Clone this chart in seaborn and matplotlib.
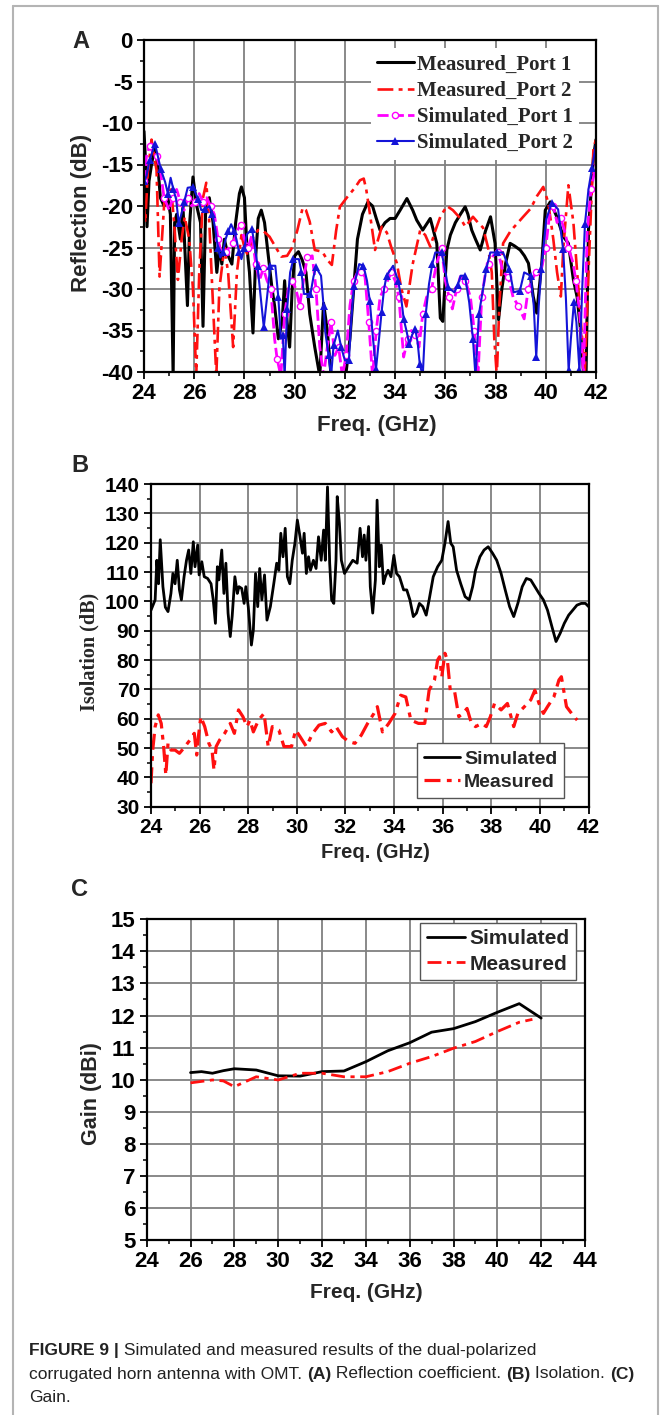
import matplotlib
matplotlib.use("Agg")
import matplotlib.pyplot as plt
import numpy as np
import pandas as pd
import seaborn as sns
from matplotlib.ticker import MultipleLocator
from matplotlib.lines import Line2D

# ---------------- DATA ----------------
# Panel A : reflection (dB) vs frequency (GHz)
meas_port1 = [(24.0,-11),(24.05,-14),(24.12,-22.5),(24.2,-17),(24.3,-15),(24.42,-13),(24.55,-15),(24.65,-19),
    (24.8,-20),(24.95,-19),(25.05,-21),(25.16,-40.5),(25.22,-22),(25.3,-21),(25.45,-24),(25.55,-20),(25.73,-32),
    (25.82,-22),(25.95,-16.5),(26.1,-20),(26.25,-22),(26.35,-34.5),(26.45,-21),(26.6,-19),(26.75,-22),(26.9,-28),
    (27.0,-25),(27.1,-27),(27.2,-24),(27.35,-26),(27.5,-27),(27.65,-22),(27.8,-18.5),(27.88,-17.7),(28.0,-19),
    (28.1,-25),(28.2,-28),(28.34,-35.3),(28.45,-26),(28.55,-21.5),(28.67,-20.5),(28.8,-22),(28.95,-26),(29.1,-30),
    (29.2,-32),(29.35,-36),(29.5,-34),(29.6,-29),(29.7,-34),(29.8,-37),(29.9,-30),(30.0,-26),(30.15,-25.5),
    (30.3,-26.5),(30.45,-28),(30.6,-33),(30.8,-37),(31.0,-40.5),(31.15,-31.7),(31.3,-35),(31.45,-40.5),(31.7,-41),
    (31.9,-41),(32.05,-40),(32.2,-36),(32.35,-30),(32.5,-24),(32.7,-21),(32.92,-19.5),(33.1,-20),(33.25,-21.5),
    (33.4,-22.9),(33.6,-22),(33.8,-21.5),(34.0,-21.5),(34.2,-20.5),(34.47,-19.1),(34.7,-20.5),(34.86,-21.7),
    (35.1,-22.9),(35.4,-21.5),(35.66,-24.5),(35.8,-33.5),(35.9,-33.9),(36.06,-25.3),(36.2,-23.5),(36.4,-22),
    (36.6,-21),(36.79,-20.1),(36.9,-21),(37.05,-22.9),(37.2,-24),(37.39,-25.3),(37.6,-23),(37.8,-21.3),
    (37.98,-24.5),(38.12,-33.7),(38.25,-30),(38.4,-26.9),(38.58,-24.5),(38.75,-24.8),(38.98,-25.3),(39.15,-26),
    (39.31,-26.9),(39.5,-30.9),(39.64,-32.9),(39.84,-26.9),(39.98,-20.5),(40.18,-19.5),(40.44,-21.3),(40.7,-23.7),
    (40.9,-24.5),(41.1,-28.9),(41.25,-31),(41.37,-34.5),(41.5,-40),(41.6,-41),(41.7,-22.9),(41.9,-14.1),(42.0,-12)]

meas_port2 = [(24.0,-20),(24.05,-22),(24.15,-16),(24.3,-12),(24.5,-15.7),(24.62,-28.5),(24.82,-19),(25.08,-18),
    (25.2,-22),(25.35,-28.9),(25.5,-24),(25.62,-21.3),(25.8,-24),(25.95,-30),(26.08,-40.5),(26.2,-28),(26.35,-19),
    (26.48,-17.2),(26.6,-22),(26.75,-32),(26.88,-40.5),(27.0,-30),(27.2,-25),(27.35,-28),(27.55,-37),(27.7,-28),
    (27.88,-23.5),(28.0,-25),(28.14,-26),(28.3,-24),(28.54,-22.9),(28.75,-23),(29.0,-23.7),(29.25,-25),
    (29.47,-26.1),(29.7,-26),(29.9,-25),(30.1,-23),(30.32,-20.2),(30.45,-20.5),(30.6,-21.9),(30.8,-25.3),
    (31.1,-25.5),(31.3,-26.5),(31.48,-27.1),(31.65,-23),(31.8,-20.1),(32.1,-18.9),(32.4,-17.8),(32.6,-16.9),
    (32.75,-16.7),(32.85,-18),(33.0,-21),(33.2,-25.3),(33.47,-22.5),(33.67,-23.2),(33.85,-25),(34.07,-26.9),
    (34.25,-30),(34.45,-32.1),(34.7,-27),(35.0,-22.9),(35.2,-23.5),(35.4,-24.9),(35.6,-23),(35.8,-21.3),
    (36.06,-20),(36.3,-20.5),(36.6,-21.5),(36.8,-22.5),(37.1,-21.3),(37.3,-22),(37.5,-22.6),(37.7,-25),
    (37.85,-28),(37.95,-36),(38.05,-40.5),(38.15,-32),(38.3,-24.5),(38.6,-23),(39.1,-21.3),(39.4,-20.3),
    (39.65,-18.8),(39.9,-17.7),(40.1,-19.6),(40.3,-24),(40.45,-28),(40.6,-30.9),(40.7,-25),(40.9,-17.5),
    (41.1,-22),(41.3,-30),(41.45,-36),(41.55,-40.5),(41.7,-28),(41.9,-13),(42.0,-12)]

sim_port1 = [(24.0,-17),(24.1,-14),(24.22,-12.8),(24.35,-13.5),(24.5,-14),(24.64,-15.5),(24.8,-19),(25.0,-20.5),
    (25.15,-19),(25.3,-18),(25.45,-19.5),(25.6,-20.5),(25.75,-19),(25.9,-20),(26.05,-19.5),(26.2,-18.5),
    (26.35,-19.5),(26.5,-19),(26.65,-20),(26.8,-21),(26.95,-24),(27.1,-26),(27.25,-25.5),(27.4,-25),(27.55,-24.5),
    (27.7,-23),(27.85,-22.3),(28.0,-24),(28.15,-25),(28.3,-23.5),(28.45,-27),(28.6,-29),(28.75,-27.5),(28.9,-29),
    (29.05,-30),(29.2,-36),(29.3,-38.4),(29.45,-40.5),(29.6,-33),(29.75,-30),(29.9,-29),(30.05,-30),(30.2,-32),
    (30.35,-29),(30.5,-26.2),(30.7,-26),(30.85,-30),(31.0,-37),(31.15,-40.5),(31.3,-37),(31.45,-34),(31.6,-38),
    (31.75,-37),(31.9,-40.5),(32.05,-38),(32.2,-32),(32.35,-29),(32.5,-28),(32.65,-28),(32.8,-28.5),(32.95,-34),
    (33.1,-40.5),(33.25,-35),(33.4,-31),(33.55,-30),(33.7,-29),(33.85,-28),(34.0,-29),(34.15,-31),(34.34,-38.2),
    (34.5,-36),(34.65,-35),(34.8,-35.5),(34.95,-37),(35.1,-33),(35.25,-31),(35.45,-30),(35.65,-27),(35.85,-25),
    (36.0,-29),(36.15,-31),(36.28,-32.4),(36.45,-30),(36.6,-28.5),(36.8,-29),(37.0,-31),(37.15,-35),(37.3,-40.5),
    (37.45,-31),(37.6,-28),(37.75,-27),(37.9,-26),(38.1,-25.5),(38.3,-28),(38.5,-28.5),(38.7,-31),(38.9,-32),
    (39.14,-33.6),(39.3,-30),(39.45,-29),(39.6,-28),(39.8,-28),(40.0,-25),(40.15,-21),(40.3,-20),(40.45,-22),
    (40.6,-21.5),(40.75,-23),(40.9,-25),(41.08,-26.8),(41.2,-29),(41.35,-33),(41.5,-40.5),(41.65,-23),(41.8,-18),
    (42.0,-15)]

sim_port2 = [(24.0,-17),(24.1,-16.4),(24.22,-14.5),(24.34,-13.4),(24.44,-12.5),(24.55,-14),(24.67,-15.6),
    (24.84,-17.1),(24.95,-18.5),(25.06,-16.6),(25.17,-18),(25.28,-19.2),(25.38,-22),(25.48,-21.1),(25.6,-19.5),
    (25.74,-17.8),(25.96,-17.7),(26.06,-18.5),(26.16,-19.2),(26.28,-20.5),(26.41,-20.4),(26.61,-20),(26.72,-21),
    (26.83,-22.6),(26.94,-25),(27.04,-26.2),(27.15,-25.5),(27.25,-24),(27.36,-23),(27.47,-22.2),(27.58,-23),
    (27.68,-24),(27.78,-25.5),(27.88,-26.4),(28.0,-25),(28.1,-23.4),(28.3,-22.8),(28.42,-25),(28.52,-27.2),
    (28.65,-31),(28.77,-34.6),(28.9,-31),(29.03,-27.2),(29.23,-27.2),(29.35,-31),(29.45,-36),(29.53,-35.6),
    (29.6,-40.5),(29.7,-32.4),(29.82,-28),(29.95,-26.4),(30.17,-26.4),(30.27,-28),(30.37,-30.6),(30.63,-30.6),
    (30.75,-28.5),(30.85,-27.4),(31.05,-28.4),(31.15,-32),(31.22,-35.2),(31.35,-38),(31.45,-40.5),(31.55,-36.8),
    (31.72,-35),(31.85,-37),(32.0,-38.6),(32.16,-38.6),(32.25,-34),(32.36,-29.6),(32.57,-27),(32.74,-27.2),
    (32.88,-29),(32.99,-31.4),(33.12,-36),(33.24,-39.6),(33.36,-36),(33.46,-32.8),(33.56,-30),(33.66,-28.4),
    (33.92,-27.2),(34.12,-29),(34.24,-31),(34.34,-33.6),(34.45,-35),(34.56,-36.6),(34.68,-35.5),(34.8,-34.8),
    (34.9,-36.5),(34.98,-39),(35.1,-40.5),(35.22,-33),(35.35,-29.4),(35.48,-27),(35.6,-25.6),(35.85,-25.6),
    (35.98,-27.5),(36.11,-29.8),(36.36,-30.4),(36.5,-29.5),(36.61,-28.4),(36.78,-28.4),(36.95,-31.6),(37.1,-36),
    (37.2,-40.5),(37.34,-33),(37.5,-30),(37.63,-27.6),(37.79,-25.6),(38.05,-25.6),(38.3,-25.6),(38.55,-27.6),
    (38.72,-30.4),(38.97,-30.2),(39.14,-28),(39.4,-28.4),(39.52,-32),(39.62,-38.2),(39.72,-32),(39.82,-27.6),
    (40.02,-21.6),(40.24,-19.6),(40.49,-20.4),(40.69,-25.2),(40.8,-31),(40.91,-39.8),(41.0,-36),(41.12,-31.6),
    (41.22,-34),(41.34,-39.8),(41.45,-30),(41.56,-22.2),(41.7,-18),(41.84,-15.4),(42.0,-12.5)]

# Panel B : isolation (dB)
iso_simulated = [(24.0,97),(24.17,100.5),(24.24,114),(24.31,106),(24.38,121),(24.49,105),(24.59,98),(24.7,96.5),
    (24.82,102.7),(24.9,109.5),(24.99,106),(25.08,114),(25.17,103.9),(25.25,100.5),(25.36,108.4),(25.46,114),
    (25.55,117.5),(25.64,109.5),(25.74,120.3),(25.81,111.8),(25.92,119.2),(25.98,109),(26.09,113.5),(26.19,108.4),
    (26.33,107.8),(26.47,106),(26.56,100.5),(26.65,92.5),(26.73,111.8),(26.79,107.3),(26.91,117.5),(27.0,102.7),
    (27.08,113),(27.17,96),(27.26,88),(27.34,95),(27.45,108.4),(27.55,102.7),(27.62,105),(27.73,104.4),
    (27.83,99.3),(27.9,105),(28.0,98.2),(28.13,85.1),(28.21,90.2),(28.3,109.5),(28.39,98.2),(28.47,111.2),
    (28.56,100.5),(28.67,109),(28.77,93.6),(28.91,98.2),(29.05,106),(29.17,113),(29.26,110.6),(29.34,123.2),
    (29.43,115.2),(29.52,124.9),(29.61,108.4),(29.71,106),(29.81,114),(29.92,119.8),(30.02,127.7),(30.13,122),
    (30.23,116.4),(30.3,123.2),(30.39,109.5),(30.48,115.2),(30.56,110.6),(30.68,114),(30.79,111.2),(30.89,122),
    (31.0,114),(31.1,124.3),(31.17,114),(31.26,139),(31.35,113),(31.43,100.5),(31.52,99.3),(31.61,114),
    (31.66,135.7),(31.75,126.6),(31.83,114),(31.96,109.5),(32.13,111.8),(32.3,114),(32.48,113),(32.6,124.9),
    (32.7,115.2),(32.77,122.6),(32.84,114),(32.95,125.5),(33.02,105),(33.12,96),(33.23,107.3),(33.3,134.5),
    (33.39,111.8),(33.47,119.2),(33.56,106),(33.64,108.4),(33.75,110.6),(33.87,108.4),(33.99,115.7),(34.1,109.5),
    (34.22,108.4),(34.39,103.9),(34.52,103.9),(34.65,100.5),(34.79,94.8),(34.92,96),(35.04,99.3),(35.18,98.2),
    (35.32,95.3),(35.44,100.5),(35.61,108.4),(35.79,111.8),(35.96,114),(36.09,119.8),(36.22,127.2),(36.33,119.8),
    (36.43,118.6),(36.57,110.6),(36.74,106),(36.92,101.6),(37.09,100.5),(37.23,105),(37.35,110.6),(37.53,115.2),
    (37.7,117.5),(37.87,118.6),(38.05,116.4),(38.22,114),(38.4,109.5),(38.57,103.9),(38.75,98.2),(38.92,94.8),
    (39.09,99.3),(39.27,105),(39.44,107.8),(39.62,107.3),(39.79,105),(39.96,102.7),(40.14,100.5),(40.31,97),
    (40.49,91.4),(40.66,86.3),(40.83,89.1),(41.0,92.5),(41.18,95.3),(41.35,97),(41.52,98.7),(41.7,99.3),
    (41.87,99.3),(42.0,98.2)]

iso_measured = [(24.0,38),(24.07,49.3),(24.17,57.3),(24.3,61.3),(24.42,58.4),(24.52,50.5),(24.61,40.8),
    (24.7,51.6),(24.82,49.3),(24.99,49.3),(25.17,48.2),(25.34,49.9),(25.6,52.7),(25.78,55),(25.88,47.6),
    (25.95,53.9),(26.05,60.7),(26.21,57.3),(26.38,51.6),(26.51,49.3),(26.59,42.5),(26.68,50.5),(26.82,52.7),
    (27.03,55),(27.26,58.4),(27.43,55),(27.6,63),(27.78,60.7),(27.95,57.3),(28.07,59.5),(28.21,55.5),(28.42,59.5),
    (28.65,61.8),(28.82,50.5),(28.99,57.3),(29.26,56.1),(29.47,50.5),(29.78,50.5),(29.95,56.1),(30.13,53.9),
    (30.39,50.5),(30.65,55),(30.91,57.8),(31.17,58.4),(31.43,55.5),(31.61,57.3),(31.87,53.9),(32.13,52.2),
    (32.39,51.6),(32.65,54.4),(32.91,58.4),(33.17,61.8),(33.31,64.1),(33.52,55.5),(33.78,58.4),(34.04,61.8),
    (34.27,68),(34.48,67.4),(34.69,59.5),(35.0,58.4),(35.26,58.4),(35.44,69.7),(35.66,73.2),(35.79,80),
    (35.87,81.1),(35.96,74.3),(36.09,82.3),(36.19,80),(36.31,69.7),(36.48,69.7),(36.66,60.7),(36.83,61.8),
    (37.0,63.5),(37.18,58.4),(37.35,57.3),(37.61,58.4),(37.79,57.3),(37.96,60.7),(38.13,65.2),(38.4,63),
    (38.66,65.2),(38.92,57.3),(39.09,61.8),(39.36,64.1),(39.62,66.4),(39.79,69.7),(39.96,65.2),(40.14,61.8),
    (40.31,64.1),(40.57,67.4),(40.78,73.2),(40.88,74.3),(41.09,64.1),(41.3,61.8),(41.53,59.5)]

# Panel C : gain (dBi)
gain_freq_sim = [26, 26.5, 27, 27.5, 28, 29, 30, 31, 32, 33, 34, 35, 36, 37, 38, 39, 40, 41, 42]
gain_sim = [10.22, 10.25, 10.2, 10.28, 10.34, 10.3, 10.12, 10.11, 10.25, 10.27, 10.56, 10.9, 11.15, 11.48,
            11.59, 11.81, 12.1, 12.37, 11.92]
gain_freq_meas = [26, 27, 27.5, 28, 29, 30, 31, 32, 33, 34, 35, 36, 37, 38, 39, 40, 41, 41.6]
gain_meas = [9.9, 9.99, 9.96, 9.78, 10.09, 9.99, 10.2, 10.2, 10.09, 10.09, 10.25, 10.51, 10.72, 10.98,
             11.19, 11.5, 11.79, 11.88]

labels_A = ["Measured_Port 1", "Measured_Port 2", "Simulated_Port 1", "Simulated_Port 2"]
labels_BC = ["Simulated", "Measured"]

# ---------------- STYLE ----------------
sns.set_theme(style="white")
plt.rcParams.update({
    "axes.unicode_minus": False,
    "axes.edgecolor": "black",
    "axes.linewidth": 1.6,
    "xtick.direction": "out", "ytick.direction": "out",
    "xtick.major.size": 5, "ytick.major.size": 5,
    "xtick.minor.size": 3, "ytick.minor.size": 3,
    "xtick.major.width": 1.3, "ytick.major.width": 1.3,
    "xtick.minor.width": 1.1, "ytick.minor.width": 1.1,
    "xtick.color": "black", "ytick.color": "black",
    "xtick.bottom": True, "ytick.left": True,
    "xtick.major.pad": 3, "ytick.major.pad": 3,
})
plt.rcParams["font.family"] = ["Liberation Sans", "DejaVu Sans"]

W, H = 663, 1415
fig = plt.figure(figsize=(W / 100, H / 100), dpi=100)


def ax_px(l, t, r, b):
    return fig.add_axes([l / W, 1 - b / H, (r - l) / W, (b - t) / H])


def style_axes(ax, xmaj, xmin, ymaj, ymin, tick_size):
    ax.xaxis.set_major_locator(MultipleLocator(xmaj))
    ax.xaxis.set_minor_locator(MultipleLocator(xmin))
    ax.yaxis.set_major_locator(MultipleLocator(ymaj))
    ax.yaxis.set_minor_locator(MultipleLocator(ymin))
    ax.grid(True, which="major", color="#808080", linewidth=1.3)
    ax.set_axisbelow(True)
    for s in ax.spines.values():
        s.set_visible(True)
        s.set_color("black")
        s.set_linewidth(1.6)
    ax.tick_params(which="both", top=False, right=False, labelsize=tick_size)
    for lab in ax.get_xticklabels() + ax.get_yticklabels():
        lab.set_fontweight("bold")


def to_df(pairs):
    return pd.DataFrame(pairs, columns=["f", "v"])


# ---------------- PANEL A ----------------
axA = ax_px(144, 40, 596, 372)
sns.lineplot(data=to_df(meas_port1), x="f", y="v", ax=axA, sort=False, estimator=None,
             color="black", linewidth=2.2, label=labels_A[0])
sns.lineplot(data=to_df(meas_port2), x="f", y="v", ax=axA, sort=False, estimator=None,
             color="#ff1010", linewidth=1.9, linestyle=(0, (6, 2, 1.5, 2)), label=labels_A[1])
sns.lineplot(data=to_df(sim_port1), x="f", y="v", ax=axA, sort=False, estimator=None,
             color="#ff00ff", linewidth=2.0, linestyle=(0, (4, 1.5)), marker="o", markersize=4.5,
             markerfacecolor="white", markeredgecolor="#ff00ff", markeredgewidth=1.0, markevery=2,
             label=labels_A[2])
sns.lineplot(data=to_df(sim_port2), x="f", y="v", ax=axA, sort=False, estimator=None,
             color="#1414d8", linewidth=1.5, marker="^", markersize=5.5, markeredgewidth=0,
             markevery=2, label=labels_A[3])
axA.set_xlim(24, 42)
axA.set_ylim(-40, 0)
style_axes(axA, 2, 1, 5, 2.5, 16)
axA.set_xlabel("Freq. (GHz)", fontsize=16, fontweight="bold")
axA.set_ylabel("Reflection (dB)", fontsize=16, fontweight="bold")
axA.xaxis.set_label_coords(0.514, (372 - 425) / 332)
axA.xaxis.label.set_va("center")
axA.yaxis.set_label_coords((82 - 144) / 452, 0.48)
axA.yaxis.label.set_va("center")
legA = axA.legend(loc="upper right", bbox_to_anchor=(0.962, 0.975), borderaxespad=0, borderpad=0.3,
                  frameon=True, fancybox=False, edgecolor="none", facecolor="white", framealpha=1,
                  handlelength=1.75, handletextpad=0.15, labelspacing=0.3,
                  prop={"family": ["Liberation Serif", "DejaVu Serif"], "weight": "bold", "size": 15})

# ---------------- PANEL B ----------------
axB = ax_px(151, 484, 588.6, 806.7)
sns.lineplot(data=to_df(iso_simulated), x="f", y="v", ax=axB, sort=False, estimator=None,
             color="black", linewidth=2.0, label=labels_BC[0])
sns.lineplot(data=to_df(iso_measured), x="f", y="v", ax=axB, sort=False, estimator=None,
             color="#ff1010", linewidth=2.3, linestyle=(0, (5, 2, 1.5, 2)), label=labels_BC[1])
axB.set_xlim(24, 42)
axB.set_ylim(30, 140)
style_axes(axB, 2, 1, 10, 5, 15)
axB.set_xlabel("Freq. (GHz)", fontsize=14.5, fontweight="bold")
axB.set_ylabel("Isolation (dB)", fontsize=14.5, fontweight="bold",
               family=["Liberation Serif", "DejaVu Serif"])
axB.xaxis.set_label_coords(0.512, (806.7 - 853) / 322.7)
axB.xaxis.label.set_va("center")
axB.yaxis.set_label_coords((89 - 151) / 437.6, 0.479)
axB.yaxis.label.set_va("center")
legB = axB.legend(loc="lower right", bbox_to_anchor=(0.944, 0.027), borderaxespad=0, borderpad=0.35,
                  frameon=True, fancybox=False, edgecolor="#555555", facecolor="white", framealpha=1,
                  handlelength=1.85, handletextpad=0.2, labelspacing=0.3,
                  prop={"weight": "bold", "size": 14})
legB.get_frame().set_linewidth(1.0)

# ---------------- PANEL C ----------------
axC = ax_px(146.7, 919.3, 585, 1240)
sns.lineplot(x=gain_freq_sim, y=gain_sim, ax=axC, sort=False, estimator=None,
             color="black", linewidth=2.0, label=labels_BC[0])
sns.lineplot(x=gain_freq_meas, y=gain_meas, ax=axC, sort=False, estimator=None,
             color="#ff1010", linewidth=2.0, linestyle=(0, (5, 2, 1.5, 2)), label=labels_BC[1])
axC.set_xlim(24, 44)
axC.set_ylim(5, 15)
style_axes(axC, 2, 1, 1, 0.5, 16)
axC.set_xlabel("Freq. (GHz)", fontsize=15, fontweight="bold")
axC.set_ylabel("Gain (dBi)", fontsize=15.5, fontweight="bold")
axC.xaxis.set_label_coords(0.502, (1240 - 1292) / 320.7)
axC.xaxis.label.set_va("center")
axC.yaxis.set_label_coords((91 - 146.7) / 438.3, 0.458)
axC.yaxis.label.set_va("center")
legC = axC.legend(loc="upper right", bbox_to_anchor=(0.979, 0.988), borderaxespad=0, borderpad=0.3,
                  frameon=True, fancybox=False, edgecolor="#555555", facecolor="white", framealpha=1,
                  handlelength=1.85, handletextpad=0.2, labelspacing=0.3,
                  prop={"weight": "bold", "size": 15})
legC.get_frame().set_linewidth(1.0)

# ---------------- panel letters ----------------
for letter, (px, py) in zip("ABC", [(81, 42), (80, 465), (80, 890)]):
    fig.text(px / W, 1 - py / H, letter, fontsize=17, fontweight="bold", ha="center", va="center")

# ---------------- outer frame ----------------
frame_kw = dict(color="#b4b4b4", linewidth=1.5, transform=fig.transFigure)
fig.add_artist(Line2D([13 / W, 13 / W], [0, 1 - 6 / H], **frame_kw))
fig.add_artist(Line2D([13 / W, 658 / W], [1 - 6 / H, 1 - 6 / H], **frame_kw))
fig.add_artist(Line2D([658 / W, 658 / W], [0, 1 - 6 / H], **frame_kw))

# ---------------- caption ----------------
cap_family = ["Liberation Sans", "DejaVu Sans"]
cap_size = 12.5
renderer = fig.canvas.get_renderer()
caption_lines = [
    (1350, [("FIGURE 9 |", True), (" Simulated and measured results of the dual-polarized", False)]),
    (1374, [("corrugated horn antenna with OMT. ", False), ("(A)", True), (" Reflection coefficient. ", False),
            ("(B)", True), (" Isolation. ", False), ("(C)", True)]),
    (1397, [("Gain.", False)]),
]
for ypix, parts in caption_lines:
    xpix = 29
    for txt, bold in parts:
        t = fig.text(xpix / W, 1 - ypix / H, txt, fontsize=cap_size, family=cap_family,
                     fontweight="bold" if bold else "normal", ha="left", va="center", color="#222222")
        bb = t.get_window_extent(renderer=renderer)
        xpix += bb.width

fig.savefig("out.png", dpi=100)
